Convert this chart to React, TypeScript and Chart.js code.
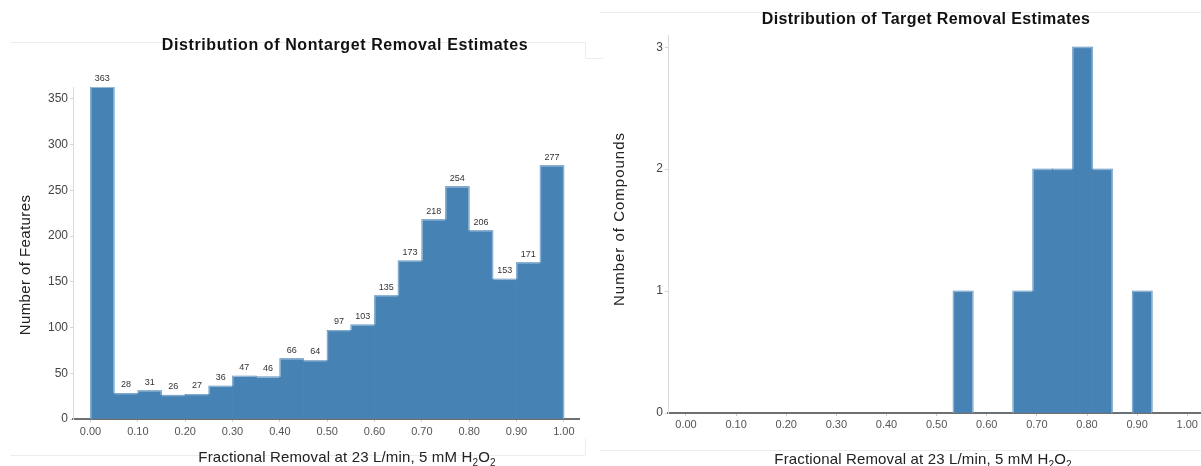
import React, { useEffect, useRef } from "react";
import { Chart, registerables } from "chart.js";

Chart.register(...registerables);

// ---------- data ----------
const nontargetBinStarts = [0.0, 0.05, 0.1, 0.15, 0.2, 0.25, 0.3, 0.35, 0.4, 0.45, 0.5, 0.55, 0.6, 0.65, 0.7, 0.75, 0.8, 0.85, 0.9, 0.95];
const nontargetBinWidth = 0.05;
const nontargetCounts = [363, 28, 31, 26, 27, 36, 47, 46, 66, 64, 97, 103, 135, 173, 218, 254, 206, 153, 171, 277];

const targetBinStarts = [0.533, 0.5727, 0.6124, 0.6521, 0.6918, 0.7315, 0.7712, 0.8109, 0.8506, 0.8903];
const targetBinWidth = 0.0397;
const targetCounts = [1, 0, 0, 1, 2, 2, 3, 2, 0, 1];

const xTickValues = [0, 0.1, 0.2, 0.3, 0.4, 0.5, 0.6, 0.7, 0.8, 0.9, 1.0];
const nontargetYTicks = [0, 50, 100, 150, 200, 250, 300, 350];
const targetYTicks = [0, 1, 2, 3];

const leftTitle = "Distribution of Nontarget Removal Estimates";
const rightTitle = "Distribution of Target Removal Estimates";
const leftYTitle = "Number of Features";
const rightYTitle = "Number of Compounds";
const xTitleParts = [
  { t: "Fractional Removal at 23 L/min, 5 mM H", sub: false },
  { t: "2", sub: true },
  { t: "O", sub: false },
  { t: "2", sub: true },
];

const FONT = "'Liberation Sans', Arial, Helvetica, sans-serif";
const BAR_COLOR = "#4682b4";

// ---------- plugins ----------
const outlinePlugin = {
  id: "histOutline",
  afterDatasetsDraw(chart: any) {
    const meta = chart.getDatasetMeta(0);
    const bars = meta.data;
    const ctx = chart.ctx;
    const base = chart.scales.y.getPixelForValue(0);
    ctx.save();
    ctx.strokeStyle = "rgba(214,228,242,0.55)";
    ctx.lineWidth = 1;
    const seg = (x1: number, y1: number, x2: number, y2: number) => {
      ctx.beginPath();
      ctx.moveTo(x1, y1);
      ctx.lineTo(x2, y2);
      ctx.stroke();
    };
    bars.forEach((bar: any, i: number) => {
      const p = bar.getProps(["x", "y", "width"], true);
      if (p.y >= base - 0.5) return;
      const l = p.x - p.width / 2 + 0.5;
      const r = p.x + p.width / 2 - 0.5;
      const top = p.y + 0.5;
      seg(l, top, r, top);
      const ln = i > 0 ? Math.min(bars[i - 1].y, base) : base;
      const rn = i < bars.length - 1 ? Math.min(bars[i + 1].y, base) : base;
      if (ln > p.y + 0.5) seg(l, top, l, ln);
      if (rn > p.y + 0.5) seg(r, top, r, rn);
    });
    ctx.restore();
  },
};

const valueLabelPlugin = {
  id: "valueLabels",
  afterDatasetsDraw(chart: any, _args: any, opts: any) {
    if (!opts || !opts.display) return;
    const meta = chart.getDatasetMeta(0);
    const ds = chart.data.datasets[0].data;
    const ctx = chart.ctx;
    ctx.save();
    ctx.font = `9px ${FONT}`;
    ctx.fillStyle = "#333";
    ctx.textAlign = "center";
    ctx.textBaseline = "middle";
    meta.data.forEach((bar: any, i: number) => {
      const p = bar.getProps(["x", "y"], true);
      ctx.fillText(String(ds[i].y), p.x, p.y - 8.5);
    });
    ctx.restore();
  },
};

const textPlugin = {
  id: "texts",
  beforeDraw(chart: any, _args: any, opts: any) {
    const ctx = chart.ctx;
    ctx.save();
    ctx.strokeStyle = "#ececec";
    ctx.lineWidth = 1;
    (opts.frame || []).forEach((s: number[]) => {
      ctx.beginPath();
      ctx.moveTo(s[0] + 0.5, s[1] + 0.5);
      ctx.lineTo(s[2] + 0.5, s[3] + 0.5);
      ctx.stroke();
    });
    ctx.restore();
  },
  afterDraw(chart: any, _args: any, opts: any) {
    const ctx = chart.ctx;
    ctx.save();
    // title
    ctx.fillStyle = "#111";
    ctx.font = `bold 16px ${FONT}`;
    (ctx as any).letterSpacing = opts.title.spacing || "0px";
    ctx.textAlign = "center";
    ctx.textBaseline = "middle";
    ctx.fillText(opts.title.text, opts.title.x, opts.title.y);
    // y title
    ctx.save();
    ctx.translate(opts.yTitle.x, opts.yTitle.y);
    ctx.rotate(-Math.PI / 2);
    ctx.fillStyle = "#222";
    ctx.font = `${opts.yTitle.size}px ${FONT}`;
    (ctx as any).letterSpacing = opts.yTitle.spacing || "0px";
    ctx.fillText(opts.yTitle.text, 0, 0);
    ctx.restore();
    // x title with subscripts
    ctx.fillStyle = "#222";
    ctx.textAlign = "left";
    ctx.textBaseline = "alphabetic";
    (ctx as any).letterSpacing = "0.15px";
    const mainFont = `15px ${FONT}`;
    const subFont = `10px ${FONT}`;
    let total = 0;
    xTitleParts.forEach((p) => {
      ctx.font = p.sub ? subFont : mainFont;
      total += ctx.measureText(p.t).width;
    });
    let x = opts.xTitle.x - total / 2;
    const baseY = opts.xTitle.y;
    xTitleParts.forEach((p) => {
      ctx.font = p.sub ? subFont : mainFont;
      ctx.fillText(p.t, x, p.sub ? baseY + 4 : baseY);
      x += ctx.measureText(p.t).width;
    });
    ctx.restore();
  },
};

// ---------- chart builder ----------
function makeConfig(args: {
  binStarts: number[];
  binWidth: number;
  counts: number[];
  xMin: number;
  xMax: number;
  yMax: number;
  yTicks: number[];
  yFmt: (v: number) => string;
  padding: any;
  yWidth: number;
  xHeight: number;
  xTickPad: number;
  showValues: boolean;
  texts: any;
}) {
  return {
    type: "bar",
    data: {
      datasets: [
        {
          data: args.counts.map((c, i) => ({ x: args.binStarts[i] + args.binWidth / 2, y: c })),
          backgroundColor: BAR_COLOR,
          borderWidth: 0,
          barPercentage: 1,
          categoryPercentage: 1,
        },
      ],
    },
    options: {
      animation: false,
      responsive: false,
      maintainAspectRatio: false,
      layout: { padding: args.padding },
      plugins: {
        legend: { display: false },
        tooltip: { enabled: false },
        title: { display: false },
        valueLabels: { display: args.showValues },
        texts: args.texts,
      },
      scales: {
        x: {
          type: "linear",
          offset: false,
          min: args.xMin,
          max: args.xMax,
          afterBuildTicks: (s: any) => {
            s.ticks = xTickValues.map((v) => ({ value: v }));
          },
          afterFit: (s: any) => {
            s.height = args.xHeight;
          },
          grid: { display: true, offset: false, drawOnChartArea: false, drawTicks: true, tickLength: 3, color: "#cfcfcf" },
          border: { display: true, color: "#6f6f6f", width: 2 },
          ticks: {
            autoSkip: false,
            maxRotation: 0,
            padding: args.xTickPad,
            color: "#555",
            font: { family: FONT, size: 11 },
            callback: (v: any) => Number(v).toFixed(2),
          },
        },
        y: {
          type: "linear",
          min: 0,
          max: args.yMax,
          afterBuildTicks: (s: any) => {
            s.ticks = args.yTicks.map((v) => ({ value: v }));
          },
          afterFit: (s: any) => {
            s.width = args.yWidth;
          },
          grid: { display: true, drawOnChartArea: false, drawTicks: true, tickLength: 3, color: "#d6d6d6" },
          border: { display: true, color: "#dadada", width: 1 },
          ticks: {
            padding: 2,
            color: "#444",
            font: { family: FONT, size: 12 },
            callback: (v: any) => args.yFmt(Number(v)),
          },
        },
      },
    },
    plugins: [outlinePlugin, valueLabelPlugin, textPlugin],
  };
}

function HistChart({ config, width, height, left }: { config: any; width: number; height: number; left: number }) {
  const ref = useRef<HTMLCanvasElement | null>(null);
  useEffect(() => {
    if (!ref.current) return;
    const chart = new Chart(ref.current, config);
    return () => chart.destroy();
  }, [config]);
  return (
    <canvas
      ref={ref}
      width={width}
      height={height}
      style={{ position: "absolute", left, top: 0, width, height, display: "block" }}
    />
  );
}

const leftConfig = makeConfig({
  binStarts: nontargetBinStarts,
  binWidth: nontargetBinWidth,
  counts: nontargetCounts,
  xMin: -0.037,
  xMax: 1.032,
  yMax: 363,
  yTicks: nontargetYTicks,
  yFmt: (v) => String(v),
  padding: { left: 0, right: 21, top: 87, bottom: 0 },
  yWidth: 73,
  xHeight: 47,
  xTickPad: 3,
  showValues: true,
  texts: {
    title: { text: leftTitle, x: 345, y: 46, spacing: "0.6px" },
    yTitle: { text: leftYTitle, x: 26, y: 265, size: 15, spacing: "0.4px" },
    xTitle: { x: 347, y: 462 },
    frame: [
      [10, 42, 585, 42],
      [10, 455, 585, 455],
      [585, 42, 585, 58],
      [585, 58, 600, 58],
      [585, 438, 585, 455],
    ],
  },
});

const rightConfig = makeConfig({
  binStarts: targetBinStarts,
  binWidth: targetBinWidth,
  counts: targetCounts,
  xMin: -0.0359,
  xMax: 1.0274,
  yMax: 3.1,
  yTicks: targetYTicks,
  yFmt: (v) => String(Math.round(v)),
  padding: { left: 0, right: 0, top: 35, bottom: 0 },
  yWidth: 68,
  xHeight: 53,
  xTickPad: 2,
  showValues: false,
  texts: {
    title: { text: rightTitle, x: 326, y: 20, spacing: "0.4px" },
    yTitle: { text: rightYTitle, x: 20, y: 219, size: 15, spacing: "1px" },
    xTitle: { x: 323, y: 464 },
    frame: [
      [0, 12, 601, 12],
      [0, 450, 601, 450],
      [0, 58, 3, 58],
    ],
  },
});

export default function App() {
  return (
    <div style={{ position: "absolute", left: 0, top: 0, width: 1201, height: 466, background: "#fff", overflow: "hidden" }}>
      <HistChart config={leftConfig} width={600} height={466} left={0} />
      <HistChart config={rightConfig} width={601} height={466} left={600} />
    </div>
  );
}
